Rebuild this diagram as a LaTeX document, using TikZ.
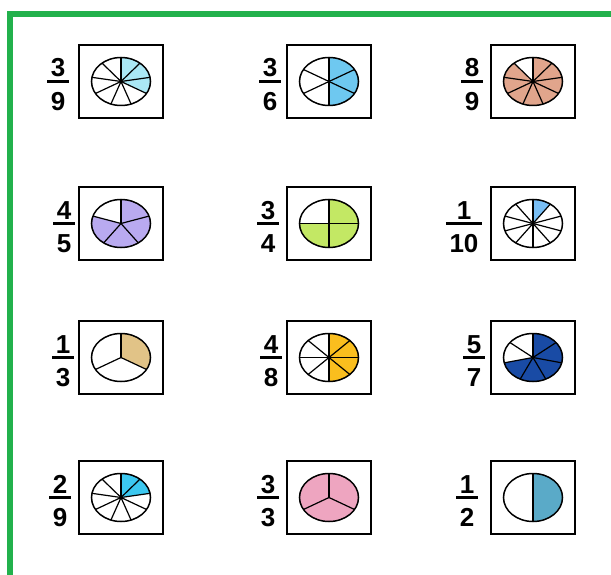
\documentclass[tikz,border=0pt]{standalone}
\usepackage{fontspec}
\setmainfont{Liberation Sans}
\usetikzlibrary{calc}
\definecolor{frameg}{RGB}{34,177,76}
\definecolor{c39}{RGB}{170,232,245}
\definecolor{c36}{RGB}{110,200,240}
\definecolor{c89}{RGB}{225,165,140}
\definecolor{c45}{RGB}{185,170,240}
\definecolor{c34}{RGB}{195,232,100}
\definecolor{c110}{RGB}{120,190,245}
\definecolor{c13}{RGB}{225,195,135}
\definecolor{c48}{RGB}{250,190,30}
\definecolor{c57}{RGB}{25,75,165}
\definecolor{c29}{RGB}{60,200,240}
\definecolor{c33}{RGB}{238,165,192}
\definecolor{c12}{RGB}{90,170,200}
\tikzset{
  cellbox/.style={draw=black, line width=2.5pt, minimum width=84pt, minimum height=73pt, inner sep=0pt},
  digit/.style={font=\fontsize{26}{26}\selectfont\bfseries, inner xsep=3.5pt, inner ysep=0pt, anchor=base},
  fracbar/.style={line width=3pt},
  pieline/.style={line width=1.2pt},
  pierim/.style={line width=1.5pt},
}
\begin{document}
\begin{tikzpicture}[x=1pt,y=1pt]
\useasboundingbox[fill=white] (0,0) rectangle (611,-575);
\draw[frameg, line width=6pt, line join=miter] (10,-575) -- (10,-14) -- (611,-14);
\foreach \nm/\bx/\by/\fx/\num/\den/\n/\s/\e/\col in {
  a/79/45/58/3/9/9/-30/90/c39,
  b/287/45/270/3/6/6/-90/90/c36,
  c/491/45/472/8/9/9/130/450/c89,
  d/79/187/64/4/5/5/162/450/c45,
  e/287/187/268/3/4/4/180/450/c34,
  f/491/187/464/1/10/10/54/90/c110,
  g/79/321/63/1/3/3/-30/90/c13,
  h/287/321/271/4/8/8/-90/90/c48,
  i/491/321/474/5/7/7/192.857/450/c57,
  j/79/461/60/2/9/9/10/90/c29,
  k/287/461/268/3/3/3/0/360/c33,
  l/491/461/467/1/2/2/-90/90/c12}{
  \node[cellbox] (b\nm) at (\bx+42,-\by-36.5) {};
  \coordinate (p\nm) at (b\nm.center);
  \fill[\col] (p\nm) -- ([shift={(\s:29.5 and 24)}]p\nm) arc[start angle=\s, end angle=\e, x radius=29.5, y radius=24] -- cycle;
  \foreach \k in {1,...,\n}{
    \draw[pieline] (p\nm) -- ([shift={(90+\k*360/\n:29.5 and 24)}]p\nm);
  }
  \draw[pierim] (p\nm) ellipse[x radius=29.5, y radius=24];
  \node[digit] (n\nm) at (\fx,-\by-36.5+4.5) {\num};
  \node[digit] (d\nm) at (\fx,-\by-36.5-29) {\den};
  \coordinate (m\nm) at (\fx,-\by-36.5);
  \draw[fracbar] (d\nm.west |- m\nm) -- (d\nm.east |- m\nm);
}
\end{tikzpicture}
\end{document}
